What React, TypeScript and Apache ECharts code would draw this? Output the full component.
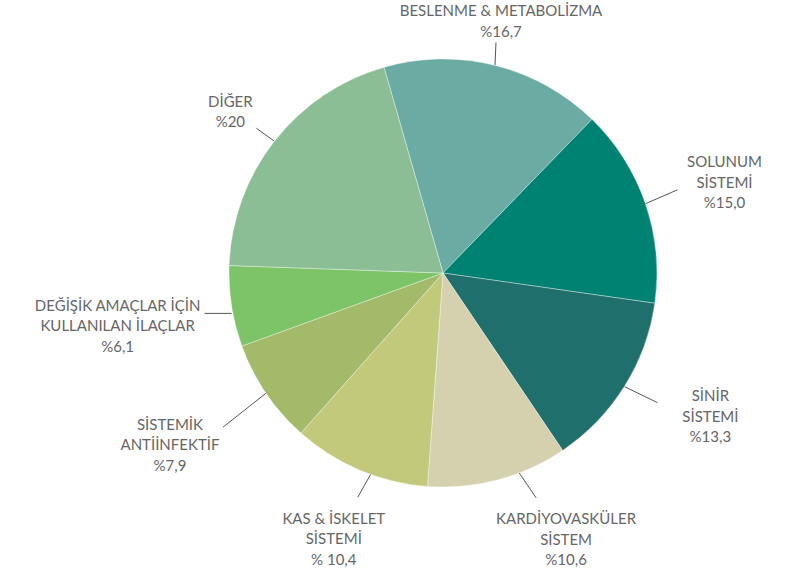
import React, { useEffect, useRef } from "react";
import * as echarts from "echarts";

const categories = [
  "BESLENME & METABOLİZMA",
  "SOLUNUM\nSİSTEMİ",
  "SİNİR\nSİSTEMİ",
  "KARDİYOVASKÜLER\nSİSTEM",
  "KAS & İSKELET\nSİSTEMİ",
  "SİSTEMİK\nANTİİNFEKTİF",
  "DEĞİŞİK AMAÇLAR İÇİN\nKULLANILAN İLAÇLAR",
  "DİĞER",
];
const values = [16.7, 15.0, 13.3, 10.6, 10.4, 7.9, 6.1, 20];
const valueLabels = ["%16,7", "%15,0", "%13,3", "%10,6", "% 10,4", "%7,9", "%6,1", "%20"];
const colors = ["#6aaba4", "#008272", "#1f706d", "#d5d0ad", "#c2c97b", "#a2ba6a", "#7dc468", "#8bbe95"];

// label layout offsets relative to the slice's outer mid-point (pixels)
const lineStartOffsets = [[0, 0], [0, 0], [0, 0], [21, -7], [11, 4], [0, 0], [0, 7], [0, 0]];
const lineEndOffsets = [[1, -23], [32, -14], [33, 16], [38, 18], [-2, 27], [-43, 34], [-27, 7], [-18, -13]];
const labelOffsets = [[6, -45], [79, -22], [86, 29], [68, 59], [-26, 68], [-96, 51], [-114, 19], [-44, -30]];

export default function App() {
  const ref = useRef<HTMLDivElement>(null);
  useEffect(() => {
    if (!ref.current) return;
    const chart = echarts.init(ref.current, null, { renderer: "svg" });
    chart.setOption({
      animation: false,
      backgroundColor: "#ffffff",
      series: [
        {
          type: "pie",
          center: [443, 273],
          radius: 214,
          startAngle: 106,
          clockwise: true,
          avoidLabelOverlap: false,
          itemStyle: { borderColor: "rgba(255,255,255,0.6)", borderWidth: 0.6 },
          label: {
            show: true,
            position: "outside",
            alignTo: "none",
            fontFamily: "Lato, 'Open Sans', sans-serif",
            fontSize: 15,
            lineHeight: 20.5,
            color: "#666666",
            formatter: (p: any) => p.name + "\n" + valueLabels[p.dataIndex],
          },
          labelLine: {
            show: true,
            length: 10,
            length2: 0,
            smooth: false,
            lineStyle: { color: "#555555", width: 1 },
          },
          labelLayout: (params: any) => {
            const i = params.dataIndex;
            const pts = params.labelLinePoints;
            if (!pts || !pts.length) return {};
            const P = pts[0];
            const s = lineStartOffsets[i];
            const e = lineEndOffsets[i];
            const l = labelOffsets[i];
            return {
              x: P[0] + l[0],
              y: P[1] + l[1],
              align: "center",
              verticalAlign: "middle",
              labelLinePoints: [
                [P[0] + s[0], P[1] + s[1]],
                [P[0] + e[0], P[1] + e[1]],
              ],
            };
          },
          data: categories.map((name, i) => ({
            name,
            value: values[i],
            itemStyle: { color: colors[i] },
          })),
        },
      ],
    });
    return () => chart.dispose();
  }, []);
  return (
    <div
      ref={ref}
      style={{ position: "fixed", left: 0, top: 0, width: 804, height: 573 }}
    />
  );
}
